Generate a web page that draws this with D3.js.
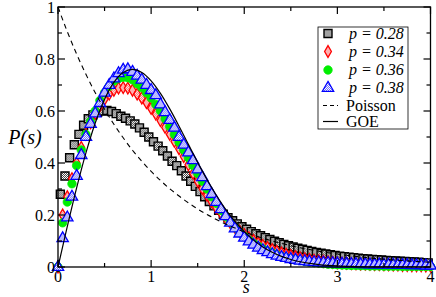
<!DOCTYPE html>
<html><head><meta charset="utf-8">
<script src="https://cdn.jsdelivr.net/npm/d3@7"></script>
<style>body{margin:0;background:#fff}svg{display:block}</style>
</head><body><svg id="c" width="436" height="297"></svg>
<script>
// s grid (step 0.05 from 0 to 4) for p=0.34,0.36,0.38
const sGrid = [0,0.05,0.1,0.15,0.2,0.25,0.3,0.35,0.4,0.45,0.5,0.55,0.6,0.65,0.7,0.75,0.8,0.85,0.9,0.95,1,1.05,1.1,1.15,1.2,1.25,1.3,1.35,1.4,1.45,1.5,1.55,1.6,1.65,1.7,1.75,1.8,1.85,1.9,1.95,2,2.05,2.1,2.15,2.2,2.25,2.3,2.35,2.4,2.45,2.5,2.55,2.6,2.65,2.7,2.75,2.8,2.85,2.9,2.95,3,3.05,3.1,3.15,3.2,3.25,3.3,3.35,3.4,3.45,3.5,3.55,3.6,3.65,3.7,3.75,3.8,3.85,3.9,3.95,4];
// s grid for p=0.28 (bin centres)
const sSquares = [0.025,0.075,0.125,0.175,0.225,0.275,0.325,0.375,0.425,0.475,0.525,0.575,0.625,0.675,0.725,0.775,0.825,0.875,0.925,0.975,1.025,1.075,1.125,1.175,1.225,1.275,1.325,1.375,1.425,1.475,1.525,1.575,1.625,1.675,1.725,1.775,1.825,1.875,1.925,1.975,2.025,2.075,2.125,2.175,2.225,2.275,2.325,2.375,2.425,2.475,2.525,2.575,2.625,2.675,2.725,2.775,2.825,2.875,2.925,2.975,3.025,3.075,3.125,3.175,3.225,3.275,3.325,3.375,3.425,3.475,3.525,3.575,3.625,3.675,3.725,3.775,3.825,3.875,3.925,3.975];
const p028 = [0.28,0.35,0.42,0.47,0.51,0.545,0.57,0.585,0.595,0.6,0.602,0.598,0.59,0.58,0.572,0.562,0.55,0.535,0.518,0.5,0.482,0.465,0.447,0.427,0.407,0.39,0.37,0.35,0.33,0.31,0.29,0.27,0.252,0.235,0.218,0.203,0.19,0.178,0.166,0.155,0.145,0.136,0.128,0.12,0.113,0.106,0.099,0.093,0.087,0.082,0.077,0.072,0.068,0.064,0.06,0.056,0.053,0.05,0.047,0.044,0.042,0.04,0.038,0.036,0.034,0.032,0.031,0.029,0.028,0.027,0.025,0.024,0.023,0.022,0.021,0.02,0.019,0.018,0.017,0.016];
const p034 = [0,0.2,0.27,0.34,0.4,0.46,0.51,0.555,0.59,0.62,0.645,0.665,0.68,0.688,0.69,0.688,0.68,0.665,0.65,0.632,0.61,0.588,0.563,0.537,0.51,0.483,0.455,0.425,0.393,0.36,0.33,0.302,0.276,0.251,0.228,0.207,0.188,0.17,0.153,0.138,0.125,0.113,0.102,0.092,0.083,0.075,0.067,0.06,0.054,0.049,0.044,0.04,0.036,0.032,0.029,0.026,0.024,0.022,0.02,0.018,0.016,0.015,0.014,0.013,0.012,0.011,0.011,0.01,0.009,0.009,0.008,0.008,0.007,0.007,0.006,0.006,0.005,0.005,0.005,0.004,0.004];
const p036 = [0,0.17,0.25,0.32,0.39,0.45,0.51,0.56,0.6,0.64,0.67,0.695,0.715,0.725,0.73,0.728,0.72,0.705,0.69,0.67,0.65,0.625,0.6,0.57,0.54,0.51,0.48,0.45,0.42,0.39,0.36,0.33,0.3,0.27,0.245,0.218,0.194,0.172,0.152,0.134,0.118,0.104,0.091,0.08,0.07,0.061,0.054,0.047,0.041,0.036,0.032,0.028,0.025,0.022,0.019,0.017,0.015,0.013,0.011,0.01,0.009,0.008,0.007,0.006,0.006,0.005,0.005,0.004,0.004,0.004,0.003,0.003,0.003,0.003,0.002,0.002,0.002,0.002,0.002,0.002,0.002];
const p038 = [0,0.11,0.19,0.27,0.35,0.43,0.5,0.55,0.59,0.63,0.67,0.7,0.725,0.745,0.758,0.76,0.75,0.735,0.72,0.7,0.68,0.66,0.625,0.595,0.565,0.535,0.5,0.47,0.44,0.41,0.375,0.345,0.31,0.28,0.25,0.222,0.195,0.17,0.148,0.128,0.112,0.098,0.085,0.074,0.064,0.056,0.049,0.043,0.038,0.034,0.03,0.027,0.024,0.022,0.02,0.018,0.017,0.016,0.015,0.014,0.013,0.012,0.012,0.011,0.011,0.01,0.01,0.009,0.009,0.009,0.008,0.008,0.008,0.007,0.007,0.007,0.006,0.006,0.006,0.005,0.005];
// reference curves, tabulated at step 0.1
const sCurve = [0,0.1,0.2,0.3,0.4,0.5,0.6,0.7,0.8,0.9,1,1.1,1.2,1.3,1.4,1.5,1.6,1.7,1.8,1.9,2,2.1,2.2,2.3,2.4,2.5,2.6,2.7,2.8,2.9,3,3.1,3.2,3.3,3.4,3.5,3.6,3.7,3.8,3.9,4];
const poisson = [1,0.905,0.819,0.741,0.670,0.607,0.549,0.497,0.449,0.407,0.368,0.333,0.301,0.273,0.247,0.223,0.202,0.183,0.165,0.150,0.135,0.122,0.111,0.100,0.091,0.082,0.074,0.067,0.061,0.055,0.050,0.045,0.041,0.037,0.033,0.030,0.027,0.025,0.022,0.020,0.018];
const goe = [0,0.1559,0.3044,0.4391,0.5541,0.6454,0.7104,0.7483,0.7602,0.7483,0.7162,0.6680,0.6083,0.5416,0.4717,0.4025,0.3366,0.2760,0.2220,0.1752,0.1358,0.1033,0.0772,0.0567,0.0409,0.0290,0.0202,0.0138,0.0093,0.0062,0.0040,0.0026,0.0016,0.0010,0.0006,0.0004,0.0002,0.0001,0.0001,0,0];
const xTicks = [0,1,2,3,4];
const yTicks = [0,0.2,0.4,0.6,0.8,1];
const yTickLabels = ["0","0.2","0.4","0.6","0.8","1"];
const legendLabels = ["p = 0.28","p = 0.34","p = 0.36","p = 0.38","Poisson","GOE"];

const svg = d3.select("#c");
const W=436,H=297, L=58, R=430.5, T=7, B=267;
const x = d3.scaleLinear().domain([0,4]).range([L,R]);
const y = d3.scaleLinear().domain([0,1]).range([B,T]);
const FONT = '"Liberation Serif"';
function txt(sel, x0, y0, s, size, opts){
  opts = opts||{};
  return sel.append("text").attr("x",x0).attr("y",y0).attr("font-size",size)
    .style("font-family",FONT).style("font-style",opts.italic?"italic":"normal")
    .attr("text-anchor",opts.anchor||"start").attr("fill","#000").text(s);
}

const defs = svg.append("defs");
function pat(id, col){
  const p = defs.append("pattern").attr("id",id).attr("patternUnits","userSpaceOnUse").attr("width",2).attr("height",2);
  p.append("rect").attr("width",2).attr("height",2).attr("fill","#fff");
  p.append("rect").attr("width",1).attr("height",1).attr("fill",col);
  p.append("rect").attr("x",1).attr("y",1).attr("width",1).attr("height",1).attr("fill",col);
}
pat("pk","#444"); pat("pr","#ff6060"); pat("pb","#7070ff");

const g = svg.append("g");

const sym = {
  sq: d3.symbol().type(d3.symbolSquare).size(64),
  di: d3.symbol().type(d3.symbolDiamond).size(40),
  ci: d3.symbol().type(d3.symbolCircle).size(56),
  tr: d3.symbol().type(d3.symbolTriangle).size(56)
};
const series = [
  {s:sSquares, v:p028, d:sym.sq, fill:"url(#pk)", stroke:"#000", sw:1.4},
  {s:sGrid, v:p034, d:sym.di, fill:"url(#pr)", stroke:"#ff0000", sw:1.3},
  {s:sGrid, v:p036, d:sym.ci, fill:"#00ee00", stroke:"#00ee00", sw:0.8},
  {s:sGrid, v:p038, d:sym.tr, fill:"url(#pb)", stroke:"#0000ff", sw:1.3}
];
series.forEach(se=>{
  g.append("g").selectAll("path").data(se.v.map((v,i)=>[se.s[i],v])).join("path")
    .attr("d",se.d).attr("transform",d=>`translate(${x(d[0])},${y(d[1])})`)
    .attr("fill",se.fill).attr("stroke",se.stroke).attr("stroke-width",se.sw);
});

const line = d3.line().x(d=>x(d[0])).y(d=>y(d[1])).curve(d3.curveMonotoneX);
g.append("path").datum(sCurve.map((s,i)=>[s,poisson[i]])).attr("d",line)
  .attr("fill","none").attr("stroke","#000").attr("stroke-width",1.1).attr("stroke-dasharray","5,4");
g.append("path").datum(sCurve.map((s,i)=>[s,goe[i]])).attr("d",d3.line().x(d=>x(d[0])).y(d=>y(d[1])).curve(d3.curveCatmullRom))
  .attr("fill","none").attr("stroke","#000").attr("stroke-width",1.2);

// frame and ticks
const ax = svg.append("g").attr("stroke","#000");
ax.append("rect").attr("x",L).attr("y",T).attr("width",R-L).attr("height",B-T).attr("fill","none").attr("stroke-width",1.3);
const xMinor = d3.range(0.5,4,1);
const yMinor = d3.range(0.1,1,0.2);
xTicks.forEach(t=>{
  ax.append("line").attr("x1",x(t)).attr("x2",x(t)).attr("y1",B).attr("y2",B-7).attr("stroke-width",1.2);
  ax.append("line").attr("x1",x(t)).attr("x2",x(t)).attr("y1",T).attr("y2",T+7).attr("stroke-width",1.2);
});
xMinor.forEach(t=>{
  ax.append("line").attr("x1",x(t)).attr("x2",x(t)).attr("y1",B).attr("y2",B-4).attr("stroke-width",1.2);
  ax.append("line").attr("x1",x(t)).attr("x2",x(t)).attr("y1",T).attr("y2",T+4).attr("stroke-width",1.2);
});
yTicks.forEach(t=>{
  ax.append("line").attr("y1",y(t)).attr("y2",y(t)).attr("x1",L).attr("x2",L+7).attr("stroke-width",1.2);
  ax.append("line").attr("y1",y(t)).attr("y2",y(t)).attr("x1",R).attr("x2",R-7).attr("stroke-width",1.2);
});
yMinor.forEach(t=>{
  ax.append("line").attr("y1",y(t)).attr("y2",y(t)).attr("x1",L).attr("x2",L+4).attr("stroke-width",1.2);
  ax.append("line").attr("y1",y(t)).attr("y2",y(t)).attr("x1",R).attr("x2",R-4).attr("stroke-width",1.2);
});
const tx = svg.append("g");
xTicks.forEach(t=>txt(tx, x(t), B+15, String(t), 16, {anchor:"middle"}));
yTicks.forEach((t,i)=>txt(tx, L-3, y(t)+5.5, yTickLabels[i], 16, {anchor:"end"}));
txt(tx, x(2)+2, H-4, "s", 18, {anchor:"middle", italic:true});
txt(tx, 25, y(0.5)+7, "P(s)", 20, {anchor:"middle", italic:true});

// legend
const lg = svg.append("g");
lg.append("rect").attr("x",318).attr("y",27).attr("width",90).attr("height",102).attr("fill","#fff").attr("stroke","#000").attr("stroke-width",0.8);
const rows = [33.5,51.5,70,88,105.5,121.5];
const lsym = [series[0],series[1],series[2],series[3]];
lsym.forEach((se,i)=>{
  lg.append("path").attr("d",se.d).attr("transform",`translate(328,${rows[i]})`).attr("fill",se.fill).attr("stroke",se.stroke).attr("stroke-width",se.sw);
  txt(lg, 349, rows[i]+5, legendLabels[i], 16, {italic:true});
});
lg.append("line").attr("x1",323).attr("x2",338).attr("y1",rows[4]).attr("y2",rows[4]).attr("stroke","#000").attr("stroke-width",1.1).attr("stroke-dasharray","4,3");
lg.append("line").attr("x1",323).attr("x2",338).attr("y1",rows[5]).attr("y2",rows[5]).attr("stroke","#000").attr("stroke-width",1.2);
txt(lg, 346, rows[4]+5, legendLabels[4], 16);
txt(lg, 346, rows[5]+5, legendLabels[5], 16);
</script></body></html>
